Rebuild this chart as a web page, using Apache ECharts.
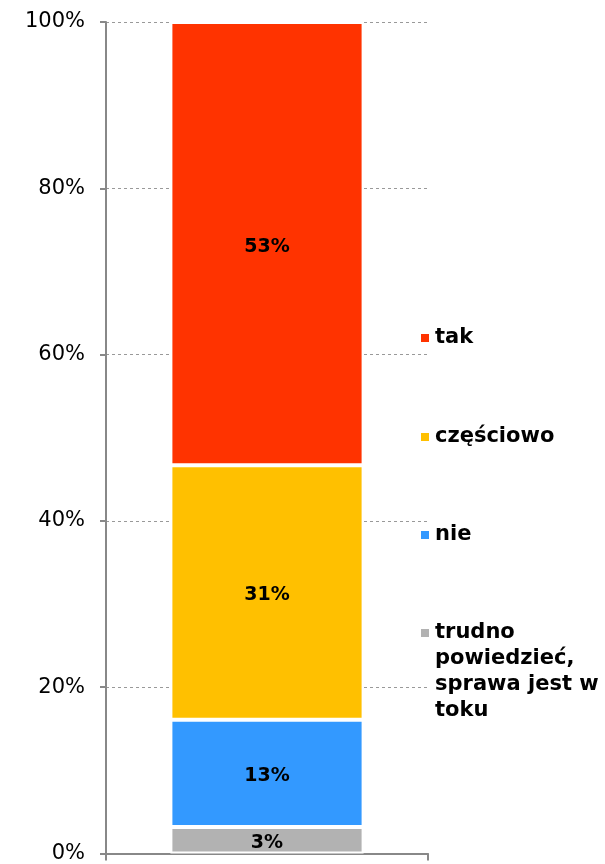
<!DOCTYPE html>
<html>
<head>
<meta charset="utf-8">
<script src="https://cdn.jsdelivr.net/npm/echarts@6/dist/echarts.min.js"></script>
<style>html,body{margin:0;padding:0;background:#fff;}#c{width:605px;height:864px;}</style>
</head>
<body>
<div id="c"></div>
<script>
var categories = [''];
var seriesNames = ['trudno powiedzieć, sprawa jest w toku', 'nie', 'częściowo', 'tak'];
var valTrudno = [3.2];
var valNie = [12.9];
var valCzesciowo = [30.6];
var valTak = [53.3];
var colors = ['#B2B2B2', '#3399FF', '#FFC000', '#FF3300'];
var yTicks = [0, 20, 40, 60, 80, 100];

var chart = echarts.init(document.getElementById('c'));
var font = "'DejaVu Sans'";
function mk(name, data, color) {
  return {
    name: name, type: 'bar', stack: 'total', data: data, barWidth: '60%',
    itemStyle: { color: color, borderColor: '#fff', borderWidth: 2 },
    label: { show: true, position: 'inside', offset: [0, 3], color: '#000', fontWeight: 'bold', fontSize: 19, fontFamily: font,
      formatter: function (p) { return Math.round(p.value) + '%'; } }
  };
}
function lg(name, top) {
  return { data: [name], orient: 'vertical', left: 419, top: top, padding: 0, itemWidth: 10, itemHeight: 10,
    icon: 'rect', textStyle: { fontSize: 21, fontWeight: 'bold', color: '#000', fontFamily: font, lineHeight: 26 },
    formatter: function (n) { return n === seriesNames[0] ? '\n\n\ntrudno\npowiedzieć,\nsprawa jest w\ntoku' : n; } };
}
chart.setOption({
  animation: false,
  backgroundColor: '#fff',
  grid: { left: 106, right: 177, top: 22, bottom: 9 },
  legend: [
    lg('tak', 325),
    lg('częściowo', 424),
    lg('nie', 522),
    lg(seriesNames[0], 542)
  ],
  xAxis: {
    type: 'category', data: categories,
    axisLine: { lineStyle: { color: '#888', width: 2 } },
    axisTick: { show: true, length: 7, lineStyle: { color: '#888', width: 2 } },
    axisLabel: { show: false }
  },
  yAxis: {
    type: 'value', min: yTicks[0], max: yTicks[yTicks.length - 1], interval: 20,
    axisLine: { show: true, lineStyle: { color: '#888', width: 2 } },
    axisTick: { show: true, length: 6, lineStyle: { color: '#888', width: 2 } },
    axisLabel: { formatter: '{value}%', fontSize: 21, color: '#000', fontFamily: font, margin: 21 },
    splitLine: { show: true, lineStyle: { color: '#999', type: [3, 3], width: 1 } }
  },
  series: [
    mk(seriesNames[0], valTrudno, colors[0]),
    mk(seriesNames[1], valNie, colors[1]),
    mk(seriesNames[2], valCzesciowo, colors[2]),
    mk(seriesNames[3], valTak, colors[3])
  ]
});
</script>
</body>
</html>
